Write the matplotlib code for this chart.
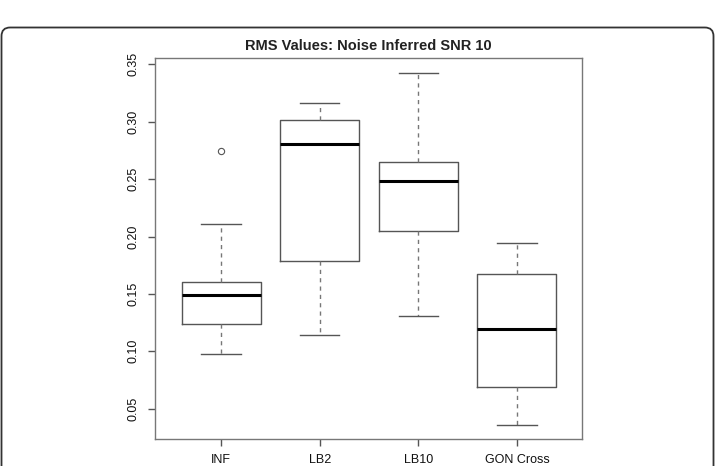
import matplotlib
matplotlib.use("Agg")
import matplotlib.pyplot as plt
from matplotlib.patches import FancyBboxPatch

plt.rcParams['font.family'] = ['Liberation Sans', 'DejaVu Sans']

categories = ["INF", "LB2", "LB10", "GON Cross"]
whisker_low = [0.098, 0.1145, 0.1305, 0.0361]
q1 = [0.1238, 0.1787, 0.2048, 0.0689]
median = [0.149, 0.2803, 0.2486, 0.1192]
q3 = [0.1604, 0.3015, 0.2646, 0.1673]
whisker_high = [0.2106, 0.3166, 0.3424, 0.1943]
outliers = [[0.2747], [], [], []]
yticks = [0.05, 0.10, 0.15, 0.20, 0.25, 0.30, 0.35]
title = "RMS Values: Noise Inferred SNR 10"

W, H = 717, 466
fig = plt.figure(figsize=(W / 100, H / 100), dpi=100)

# outer rounded frame
frame = FancyBboxPatch((1.5 / W, -20 / H), (713.5 - 1.5) / W, (H - 27.5 + 20) / H,
                       boxstyle="round,pad=0,rounding_size=0.012",
                       transform=fig.transFigure, fill=False,
                       edgecolor="#333333", linewidth=1.3, mutation_aspect=W / H)
fig.patches.append(frame)

ax = fig.add_axes([155 / W, 1 - 439 / H, (582 - 155) / W, (439 - 58) / H])

stats = []
for i, c in enumerate(categories):
    stats.append(dict(label=c, whislo=whisker_low[i], q1=q1[i], med=median[i],
                      q3=q3[i], whishi=whisker_high[i], fliers=outliers[i]))

box_col = "#555555"
ax.bxp(stats, positions=[1, 2, 3, 4], widths=0.8, showfliers=True,
       boxprops=dict(color=box_col, linewidth=1.0),
       medianprops=dict(color="black", linewidth=2.2, solid_capstyle="butt"),
       whiskerprops=dict(color="#777777", linewidth=1.0, linestyle=(0, (3, 3))),
       capprops=dict(color=box_col, linewidth=1.0),
       capwidths=0.4,
       flierprops=dict(marker="o", markersize=4.5, markerfacecolor="none",
                       markeredgecolor="#555555", markeredgewidth=0.8))

ax.set_xlim(0.33, 4.66)
ax.set_ylim(0.0236, 0.3555)
ax.set_yticks(yticks)
ax.set_yticklabels([f"{v:.2f}" for v in yticks], rotation=90, va="center")
ax.set_xticks([1, 2, 3, 4])
ax.set_xticklabels(categories)

for s in ax.spines.values():
    s.set_color("#777777")
    s.set_linewidth(1.0)
ax.tick_params(axis="both", colors="#555555", labelcolor="#111111",
               length=5, width=1.0, labelsize=9)
ax.tick_params(axis="y", pad=6)
ax.tick_params(axis="x", pad=6)

ax.set_title(title, fontsize=10.5, fontweight="bold", color="#222222", pad=6)

fig.savefig("out.png", dpi=100)
